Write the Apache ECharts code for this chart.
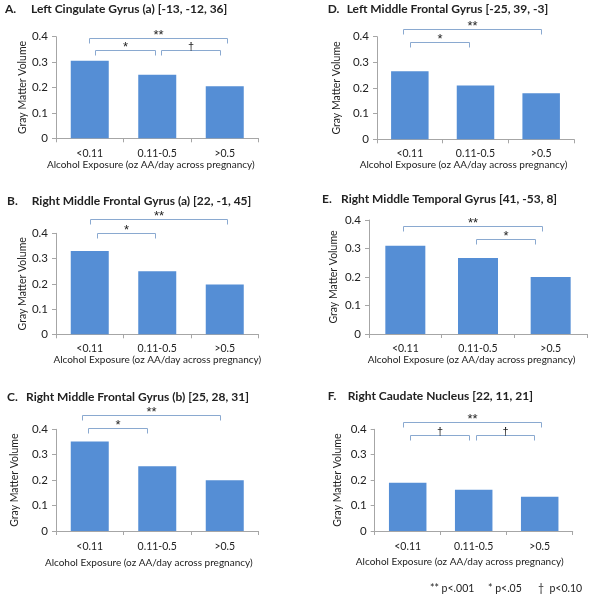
<!DOCTYPE html>
<html><head><meta charset="utf-8">
<script src="https://cdn.jsdelivr.net/npm/echarts@6/dist/echarts.min.js"></script>
<style>html,body{margin:0;padding:0;background:#fff}#c{width:592px;height:599px}</style>
</head><body><div id="c"></div>
<script>
const categories = ['<0.11', '0.11-0.5', '>0.5'];
const letters = ['A.', 'B.', 'C.', 'D.', 'E.', 'F.'];
const panelTitles = [
  'Left Cingulate Gyrus (a) [-13, -12, 36]',
  'Right Middle Frontal Gyrus (a) [22, -1, 45]',
  'Right Middle Frontal Gyrus (b) [25, 28, 31]',
  'Left Middle Frontal Gyrus [-25, 39, -3]',
  'Right Middle Temporal Gyrus [41, -53, 8]',
  'Right Caudate Nucleus [22, 11, 21]'
];
const valuesA = [0.305, 0.25, 0.205];
const valuesB = [0.33, 0.25, 0.197];
const valuesC = [0.352, 0.255, 0.2];
const valuesD = [0.265, 0.21, 0.18];
const valuesE = [0.31, 0.267, 0.2];
const valuesF = [0.19, 0.162, 0.135];
const yTickLabels = ['0', '0.1', '0.2', '0.3', '0.4'];
// brackets: [from (category units), to (category units), height (value), label]
const bracketsA = [[-0.015, 2.03, 0.396, '**'], [0.08, 0.97, 0.348, '*'], [1.05, 1.93, 0.348, '\u2020']];
const bracketsB = [[0.01, 2.04, 0.457, '**'], [0.1, 0.97, 0.402, '*']];
const bracketsC = [[-0.11, 1.93, 0.457, '**'], [-0.03, 0.85, 0.404, '*']];
const bracketsD = [[-0.11, 2.0, 0.43, '**'], [0.0, 0.9, 0.38, '*']];
const bracketsE = [[-0.03, 1.88, 0.379, '**'], [0.97, 1.78, 0.333, '*']];
const bracketsF = [[-0.07, 2.02, 0.428, '**'], [0.03, 0.93, 0.378, '\u2020'], [1.03, 1.92, 0.378, '\u2020']];
const legendLabels = ['** p<.001', '* p<.05', '\u2020  p<0.10'];
const xAxisTitle = 'Alcohol Exposure (oz AA/day across pregnancy)';
const yAxisTitle = 'Gray Matter Volume';

const allValues = [valuesA, valuesB, valuesC, valuesD, valuesE, valuesF];
const allBrackets = [bracketsA, bracketsB, bracketsC, bracketsD, bracketsE, bracketsF];

const FONT = 'Lato';
const TXT = '#222';
const BAR = '#558ed5';
const BRK = '#8aa9d0';
const AX = '#a6a6a6';

const layout = [
  {left: 56, top: 36.7, width: 202.5, height: 101.6, bw: 38, yGap: 27, lblM: 10, nGap: 20, nPad: 13, title: [5, 31, 10]},
  {left: 56, top: 233.3, width: 202.5, height: 101, bw: 38, yGap: 27, lblM: 9, nGap: 19.5, nPad: 0, title: [7, 31.7, 201.7]},
  {left: 56, top: 429.3, width: 202.5, height: 101.7, bw: 38, yGap: 36, lblM: 10, nGap: 26.5, nPad: 17, title: [7, 26, 398]},
  {left: 377, top: 36.7, width: 197, height: 102.6, bw: 37.5, yGap: 35, lblM: 9, nGap: 20, nPad: 24, title: [327.7, 346.7, 10]},
  {left: 369, top: 220, width: 218, height: 114, bw: 40, yGap: 30, lblM: 9, nGap: 20.5, nPad: 13, title: [322, 341, 200]},
  {left: 374.7, top: 429.3, width: 198, height: 101.7, bw: 37.5, yGap: 32, lblM: 10, nGap: 26, nPad: 28, title: [327.7, 347.7, 396.7]}
];

const grid = [], xAxis = [], yAxis = [], series = [], graphic = [];
layout.forEach((L, i) => {
  grid.push({left: L.left, top: L.top, width: L.width, height: L.height, containLabel: false});
  xAxis.push({
    type: 'category', gridIndex: i, data: categories,
    axisLine: {lineStyle: {color: AX, width: 1}},
    axisTick: {show: true, length: 4, lineStyle: {color: AX}},
    axisLabel: {color: TXT, fontFamily: FONT, fontSize: 10.5, margin: L.lblM},
    name: xAxisTitle, nameLocation: 'middle', nameGap: L.nGap,
    nameTextStyle: {color: TXT, fontFamily: FONT, fontSize: 10, padding: [0, L.nPad, 0, 0]}
  });
  yAxis.push({
    type: 'value', gridIndex: i, min: 0, max: 0.4, interval: 0.1,
    splitLine: {show: false},
    axisLine: {show: true, lineStyle: {color: AX, width: 1}},
    axisTick: {show: true, length: 4, lineStyle: {color: AX}},
    axisLabel: {color: TXT, fontFamily: FONT, fontSize: 11.5, margin: 8,
      formatter: v => yTickLabels[Math.round(v * 10)]},
    name: yAxisTitle, nameLocation: 'middle', nameRotate: 90, nameGap: L.yGap,
    nameTextStyle: {color: TXT, fontFamily: FONT, fontSize: 10.5}
  });
  series.push({
    type: 'bar', xAxisIndex: i, yAxisIndex: i, data: allValues[i],
    barWidth: L.bw, itemStyle: {color: BAR}, silent: true
  });
  const br = allBrackets[i];
  series.push({
    type: 'custom', xAxisIndex: i, yAxisIndex: i, clip: false, silent: true, z: 5,
    encode: {x: 0, y: 2},
    data: br.map(b => [b[0], b[1], b[2]]),
    renderItem: (params, api) => {
      const b = br[params.dataIndex];
      const p0 = api.coord([0, b[2]]);
      const bw = api.size([1, 0])[0];
      const X1 = Math.round(p0[0] + b[0] * bw) + 0.5;
      const X2 = Math.round(p0[0] + b[1] * bw) + 0.5;
      const Y = Math.round(p0[1]) + 0.5;
      const isDagger = b[3] === '\u2020';
      return {type: 'group', children: [
        {type: 'polyline', shape: {points: [[X1, Y + 5], [X1, Y], [X2, Y], [X2, Y + 5]]},
         style: {stroke: BRK, fill: null, lineWidth: 1}},
        {type: 'text', x: (X1 + X2) / 2, y: isDagger ? Y - 4 : Y - 3,
         style: {text: b[3], fontFamily: 'Liberation Sans', fontSize: isDagger ? 11 : 13,
           fill: TXT, align: 'center', verticalAlign: 'middle'}}
      ]};
    }
  });
  graphic.push({type: 'text', left: L.title[0], top: L.title[2] - 7,
    style: {text: letters[i], font: 'bold 12px ' + FONT, fill: TXT}});
  graphic.push({type: 'text', left: L.title[1], top: L.title[2] - 7,
    style: {text: panelTitles[i], font: 'bold 12px ' + FONT, fill: TXT}});
});
const legendX = [430, 488, 538];
legendLabels.forEach((t, k) => {
  graphic.push({type: 'text', left: legendX[k], top: 583,
    style: {text: t, font: '10.5px ' + FONT, fill: TXT}});
});

const chart = echarts.init(document.getElementById('c'), null, {renderer: 'canvas'});
chart.setOption({animation: false, grid, xAxis, yAxis, series, graphic});
</script></body></html>
